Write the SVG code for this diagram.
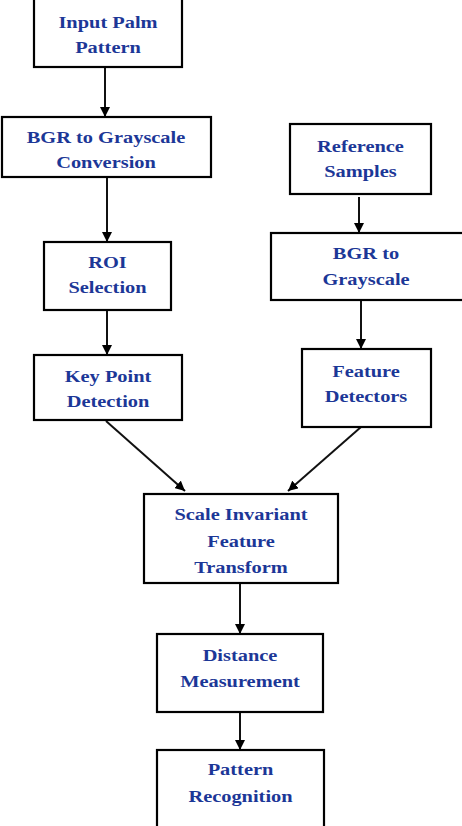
<svg xmlns="http://www.w3.org/2000/svg" width="462" height="826" viewBox="0 0 462 826">
<style>
.box{fill:#fff;stroke:#000;stroke-width:2.2}
.t{font-family:"Liberation Serif","Times New Roman",serif;font-weight:bold;font-size:17px;fill:#1c3797;text-anchor:middle}
.c{stroke:#111;stroke-width:2;fill:none;marker-end:url(#ah)}
</style>
<defs>
<marker id="ah" markerUnits="userSpaceOnUse" markerWidth="10" markerHeight="10" refX="10" refY="5" orient="auto" viewBox="0 0 10 10">
<path d="M0,0 L10,5 L0,10 z" fill="#000"/>
</marker>
</defs>
<rect width="462" height="826" fill="#fff"/>
<g id="connectors">
<line class="c" x1="105" y1="67" x2="105" y2="117"/>
<line class="c" x1="107" y1="177" x2="107" y2="242"/>
<line class="c" x1="107" y1="310" x2="107" y2="355"/>
<line class="c" x1="359" y1="197" x2="359" y2="233"/>
<line class="c" x1="361" y1="300" x2="361" y2="349"/>
<line class="c" x1="106" y1="421" x2="185" y2="491"/>
<line class="c" x1="361" y1="427" x2="288" y2="491"/>
<line class="c" x1="240" y1="583" x2="240" y2="634"/>
<line class="c" x1="240" y1="712" x2="240" y2="750"/>
</g>
<g id="n1">
<rect class="box" x="34" y="-2" width="148" height="69"/>
<text class="t" transform="translate(108,28) scale(1.2,1)">Input Palm</text>
<text class="t" transform="translate(108,53) scale(1.2,1)">Pattern</text>
</g>
<g id="n2">
<rect class="box" x="2" y="117" width="209" height="60"/>
<text class="t" transform="translate(106,143) scale(1.2,1)">BGR to Grayscale</text>
<text class="t" transform="translate(106,168) scale(1.2,1)">Conversion</text>
</g>
<g id="n3">
<rect class="box" x="44" y="242" width="127" height="68"/>
<text class="t" transform="translate(107.5,268) scale(1.2,1)">ROI</text>
<text class="t" transform="translate(107.5,293) scale(1.2,1)">Selection</text>
</g>
<g id="n4">
<rect class="box" x="34" y="355" width="148" height="65"/>
<text class="t" transform="translate(108,382) scale(1.2,1)">Key Point</text>
<text class="t" transform="translate(108,407) scale(1.2,1)">Detection</text>
</g>
<g id="n5">
<rect class="box" x="290" y="124" width="141" height="70"/>
<text class="t" transform="translate(360.5,152) scale(1.2,1)">Reference</text>
<text class="t" transform="translate(360.5,177) scale(1.2,1)">Samples</text>
</g>
<g id="n6">
<rect class="box" x="271" y="233" width="194" height="67"/>
<text class="t" transform="translate(366,259) scale(1.2,1)">BGR to</text>
<text class="t" transform="translate(366,285) scale(1.2,1)">Grayscale</text>
</g>
<g id="n7">
<rect class="box" x="302" y="349" width="129" height="78"/>
<text class="t" transform="translate(366,377) scale(1.2,1)">Feature</text>
<text class="t" transform="translate(366,402) scale(1.2,1)">Detectors</text>
</g>
<g id="n8">
<rect class="box" x="144" y="494" width="194" height="89"/>
<text class="t" transform="translate(241,520) scale(1.2,1)">Scale Invariant</text>
<text class="t" transform="translate(241,547) scale(1.2,1)">Feature</text>
<text class="t" transform="translate(241,573) scale(1.2,1)">Transform</text>
</g>
<g id="n9">
<rect class="box" x="157" y="634" width="166" height="78"/>
<text class="t" transform="translate(240,661) scale(1.2,1)">Distance</text>
<text class="t" transform="translate(240,687) scale(1.2,1)">Measurement</text>
</g>
<g id="n10">
<rect class="box" x="157" y="750" width="167" height="90"/>
<text class="t" transform="translate(240.5,775) scale(1.2,1)">Pattern</text>
<text class="t" transform="translate(240.5,802) scale(1.2,1)">Recognition</text>
</g>
</svg>
